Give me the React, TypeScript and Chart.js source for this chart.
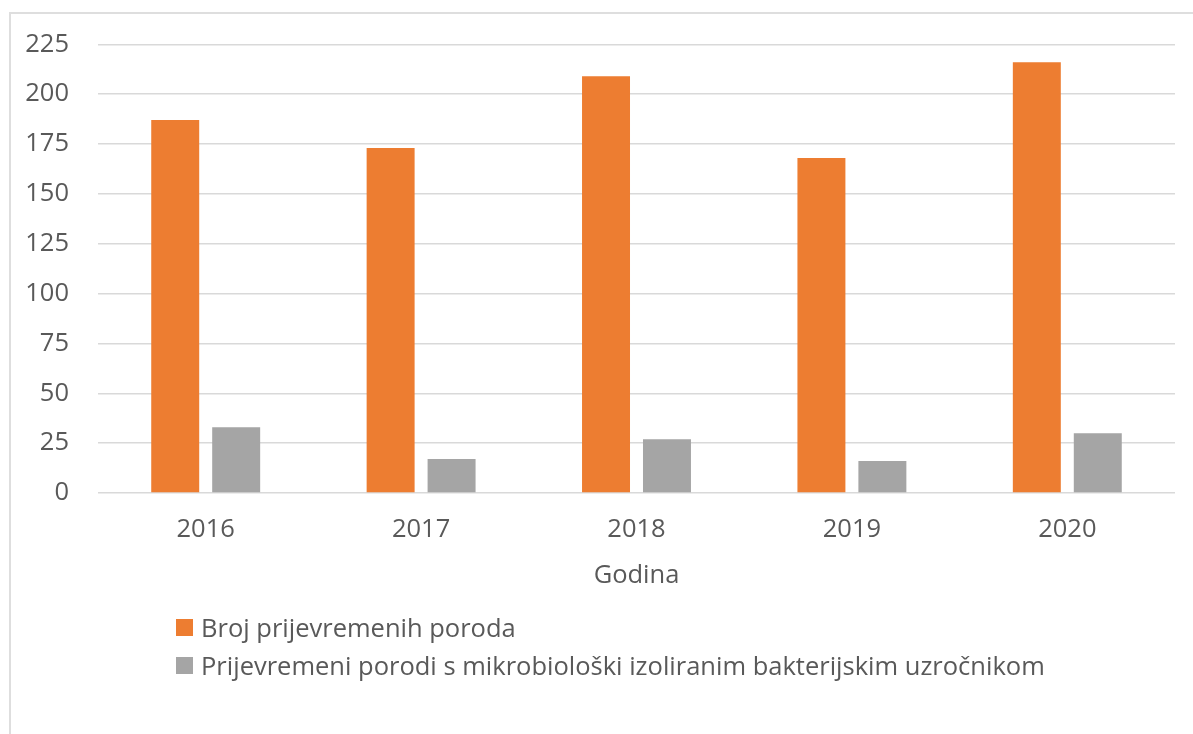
import React, { useEffect, useRef } from "react";
import { Chart, registerables } from "chart.js";

Chart.register(...registerables);

const categories = ["2016", "2017", "2018", "2019", "2020"];
const seriesNames = [
  "Broj prijevremenih poroda",
  "Prijevremeni porodi s mikrobiološki izoliranim bakterijskim uzročnikom",
];
const pretermBirths = [187, 173, 209, 168, 216];
const withBacteria = [33, 17, 27, 16, 30];
const seriesColors = ["#ED7D31", "#A5A5A5"];
const xTitle = "Godina";
const yMax = 225;
const yStep = 25;

const FONT = "'Open Sans', 'DejaVu Sans', sans-serif";
const TEXT = "#595959";

export default function App() {
  const ref = useRef<HTMLCanvasElement | null>(null);

  useEffect(() => {
    document.body.style.margin = "0";
    const ctx = ref.current!;
    const chart = new Chart(ctx, {
      type: "bar",
      data: {
        labels: categories,
        datasets: [
          {
            label: seriesNames[0],
            data: pretermBirths,
            backgroundColor: seriesColors[0],
            categoryPercentage: 0.566,
            barPercentage: 0.787,
          },
          {
            label: seriesNames[1],
            data: withBacteria,
            backgroundColor: seriesColors[1],
            categoryPercentage: 0.566,
            barPercentage: 0.787,
          },
        ],
      },
      options: {
        responsive: false,
        animation: false,
        layout: { padding: { left: 0, right: 18, top: 43, bottom: 131 } },
        plugins: {
          legend: { display: false },
          tooltip: { enabled: false },
        },
        scales: {
          x: {
            grid: { display: false, drawTicks: false },
            border: { display: false },
            ticks: {
              color: TEXT,
              font: { family: FONT, size: 25.5 },
              padding: 21,
            },
            title: {
              display: true,
              text: xTitle,
              color: TEXT,
              font: { family: FONT, size: 25.5 },
              padding: { top: 4, bottom: 12 },
            },
            afterFit: (s: any) => {
              s.height = 110;
            },
          },
          y: {
            min: 0,
            max: yMax,
            grid: { color: "#D9D9D9", lineWidth: 1.5, drawTicks: false },
            border: { display: false },
            ticks: {
              stepSize: yStep,
              color: TEXT,
              font: { family: FONT, size: 25.5 },
              padding: 29,
            },
            afterFit: (s: any) => {
              s.width = 98;
            },
          },
        },
      },
    });
    return () => chart.destroy();
  }, []);

  return (
    <div style={{ position: "relative", width: 1193, height: 734, overflow: "hidden", background: "#fff" }}>
      <div
        style={{
          position: "absolute",
          left: 9,
          top: 12,
          width: 1300,
          height: 800,
          border: "2px solid #DEDEDE",
          boxSizing: "border-box",
        }}
      />
      <canvas ref={ref} width={1193} height={734} style={{ position: "absolute", left: 0, top: 0 }} />
      <div style={{ position: "absolute", left: 176, top: 608, fontFamily: FONT, fontSize: 25.5, color: TEXT }}>
        {seriesNames.map((n, i) => (
          <div key={n} style={{ display: "flex", alignItems: "center", height: 38, whiteSpace: "nowrap" }}>
            <span style={{ display: "inline-block", width: 17, height: 17, background: seriesColors[i], marginRight: 8 }} />
            <span>{n}</span>
          </div>
        ))}
      </div>
    </div>
  );
}
